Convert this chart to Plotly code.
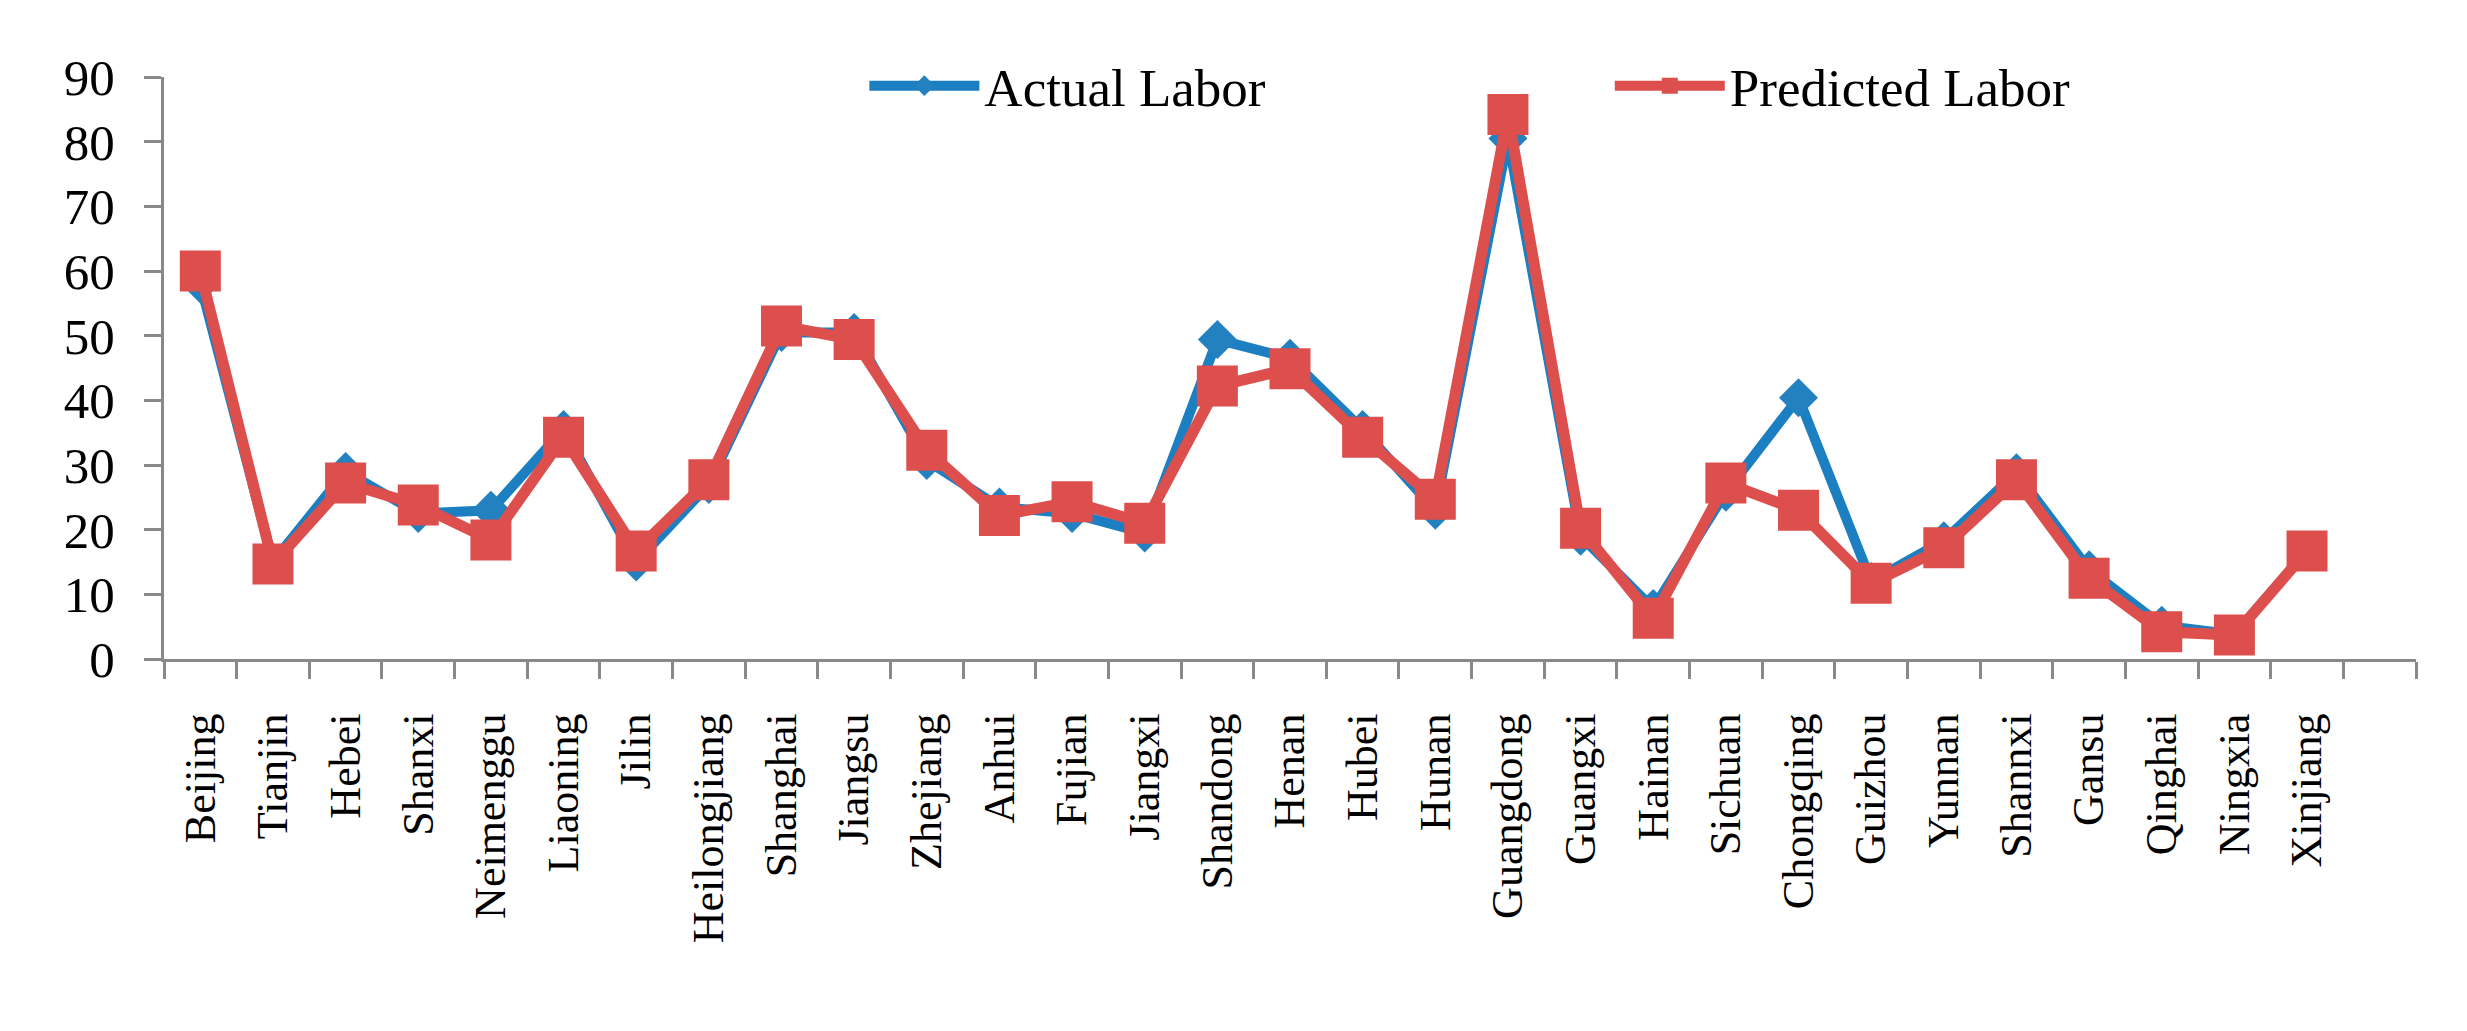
import plotly.graph_objects as go

provinces = ["Beijing", "Tianjin", "Hebei", "Shanxi", "Neimenggu", "Liaoning", "Jilin",
             "Heilongjiang", "Shanghai", "Jiangsu", "Zhejiang", "Anhui", "Fujian", "Jiangxi",
             "Shandong", "Henan", "Hubei", "Hunan", "Guangdong", "Guangxi", "Hainan",
             "Sichuan", "Chongqing", "Guizhou", "Yunnan", "Shannxi", "Gansu", "Qinghai",
             "Ningxia", "Xinjiang"]

actual_labor = [58, 15, 29, 22.5, 23, 35.5, 15, 27, 50.5, 50.5, 30.7, 23.5, 22.5, 19.5,
                49.4, 46.5, 35.5, 23, 80.5, 19, 7.8, 25.8, 40.4, 12, 18.3, 28.8, 13.8,
                5.2, 3.8, 16.7]

predicted_labor = [60, 14.7, 27.2, 23.8, 18.4, 34.3, 16.7, 27.7, 51.5, 49.4, 32.3, 22.2,
                   24.3, 21, 42.2, 44.9, 34.3, 24.7, 84.2, 20.2, 6.3, 27.2, 23, 11.7,
                   17.2, 27.7, 12.5, 4.2, 3.7, 16.7]

y_ticks = [0, 10, 20, 30, 40, 50, 60, 70, 80, 90]

BLUE = "#1B7FC1"
BLUE_M = "#2481C0"
RED = "#DC4F4D"
AXIS = "#898989"
FONT = "Liberation Serif, Times New Roman, serif"

fig = go.Figure()
fig.add_trace(go.Scatter(
    x=provinces, y=actual_labor, name="Actual Labor", mode="lines+markers",
    line=dict(color=BLUE, width=10),
    marker=dict(symbol="diamond", size=30, color=BLUE_M),
    legend="legend",
))
fig.add_trace(go.Scatter(
    x=provinces, y=predicted_labor, name="Predicted Labor", mode="lines+markers",
    line=dict(color=RED, width=11),
    marker=dict(symbol="square", size=41, color=RED),
    legend="legend2",
))

legend_common = dict(
    orientation="h", yanchor="middle", xanchor="left", y=0.985,
    font=dict(family=FONT, size=53, color="black"),
    bgcolor="rgba(0,0,0,0)", itemwidth=110, itemsizing="trace",
)

# the page body adds an 8px offset, so the figure is 8px smaller and margins shifted
fig.update_layout(
    width=2459, height=1023,
    margin=dict(l=156, r=51, t=69, b=372),
    paper_bgcolor="white", plot_bgcolor="white",
    showlegend=True,
    legend=dict(x=0.311, **legend_common),
    legend2=dict(x=0.642, **legend_common),
    font=dict(family=FONT, color="black"),
)

fig.update_xaxes(
    type="category", categoryorder="array", categoryarray=provinces + [" "],
    range=[-0.5, len(provinces) + 0.5],
    tickson="boundaries", ticks="outside", ticklen=17, tickwidth=3, tickcolor=AXIS,
    showline=True, linecolor=AXIS, linewidth=3, showgrid=False, zeroline=False,
    tickangle=-90, tickfont=dict(family=FONT, size=44, color="black"),
    ticklabelstandoff=34,
)
fig.update_yaxes(
    range=[0, 90], tickvals=y_ticks, ticks="outside", ticklen=17, tickwidth=3,
    tickcolor=AXIS, showline=True, linecolor=AXIS, linewidth=3, showgrid=False,
    zeroline=False, tickfont=dict(family=FONT, size=51, color="black"),
    ticklabelstandoff=19,
)

fig.write_html("out.html")
